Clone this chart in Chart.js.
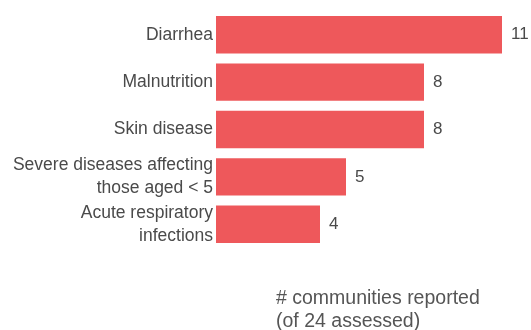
<!DOCTYPE html>
<html>
<head>
<meta charset="utf-8">
<script src="https://cdn.jsdelivr.net/npm/chart.js@4"></script>
<style>
  html, body { margin: 0; padding: 0; background: #fff; }
  #wrap { width: 531px; height: 330px; position: relative; }
</style>
</head>
<body>
<div id="wrap"><canvas id="diseaseChart"></canvas></div>
<script>
const categories = [
  "Diarrhea",
  "Malnutrition",
  "Skin disease",
  ["Severe diseases affecting", "those aged < 5"],
  ["Acute respiratory", "infections"]
];
const communities = [11, 8, 8, 5, 4];
const axisNote = ["# communities reported", "(of 24 assessed)"];

const textColor = "#4a4a4a";
const barColor = "#ee585b";

// value at the end of each bar
const valueLabels = {
  id: "valueLabels",
  afterDatasetsDraw(chart) {
    const ctx = chart.ctx;
    const meta = chart.getDatasetMeta(0);
    ctx.save();
    ctx.font = "17px 'Liberation Sans', Arial, sans-serif";
    ctx.fillStyle = textColor;
    ctx.textBaseline = "middle";
    ctx.textAlign = "left";
    meta.data.forEach((bar, i) => {
      ctx.fillText(String(communities[i]), bar.x + 9, bar.y);
    });
    ctx.restore();
  }
};

// note under the bars
const noteText = {
  id: "noteText",
  afterDraw(chart) {
    const ctx = chart.ctx;
    const area = chart.chartArea;
    ctx.save();
    ctx.font = "19.5px 'Liberation Sans', Arial, sans-serif";
    ctx.fillStyle = "#555";
    ctx.textBaseline = "middle";
    ctx.textAlign = "left";
    axisNote.forEach((line, i) => {
      ctx.fillText(line, area.left + 60, area.bottom + 51 + i * 23);
    });
    ctx.restore();
  }
};

new Chart(document.getElementById("diseaseChart"), {
  type: "bar",
  data: {
    labels: categories,
    datasets: [{
      data: communities,
      backgroundColor: barColor,
      borderWidth: 0,
      barPercentage: 0.79,
      categoryPercentage: 1
    }]
  },
  options: {
    indexAxis: "y",
    responsive: true,
    maintainAspectRatio: false,
    animation: false,
    layout: { padding: { top: 11, right: 29, bottom: 82, left: 0 } },
    plugins: {
      legend: { display: false },
      tooltip: { enabled: false }
    },
    scales: {
      x: {
        display: false,
        min: 0,
        max: 11
      },
      y: {
        grid: { display: false, drawTicks: false },
        border: { display: false },
        afterFit(scale) {
          scale.width = 216;
          scale.paddingTop = 0;
          scale.paddingBottom = 0;
        },
        ticks: {
          color: textColor,
          padding: 3,
          autoSkip: false,
          font: { family: "'Liberation Sans', Arial, sans-serif", size: 17.5, lineHeight: 1.3 }
        }
      }
    }
  },
  plugins: [valueLabels, noteText]
});
</script>
</body>
</html>
